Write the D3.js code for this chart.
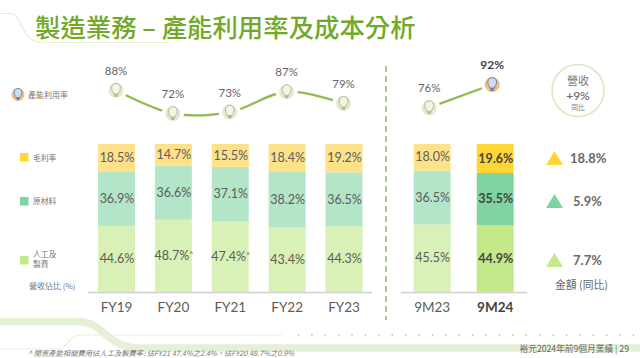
<!DOCTYPE html>
<html><head><meta charset="utf-8">
<script src="https://cdn.jsdelivr.net/npm/d3@7"></script>
<style>html,body{margin:0;padding:0;background:#fff}svg{display:block}text{font-family:"Noto Sans CJK TC","Noto Sans",sans-serif}.n{font-family:Lato,"Open Sans",sans-serif}</style>
</head><body><svg id="c" width="640" height="358"></svg>
<script>
const periodsFY=["FY19","FY20","FY21","FY22","FY23"];
const periodsM=["9M23","9M24"];
const labour=[44.6,48.7,47.4,43.4,44.3,45.5,44.9];
const material=[36.9,36.6,37.1,38.2,36.5,36.5,35.5];
const margin=[18.5,14.7,15.5,18.4,19.2,18.0,19.6];
const utilFY=[88,72,73,87,79];
const utilM=[76,92];
const caretPeriods=["FY20","FY21"];
const seriesKeys=["labour","material","margin"];
const seriesNames=["人工及製費","原材料","毛利率"];
const changeLabels=["7.7%","5.9%","18.8%"];
const colorsLight=["#d9f1b6","#b3e5c8","#fee28a"];
const colorsStrong=["#c3e98a","#80d4a2","#ffd633"];

const svg=d3.select("#c");
const all=periodsFY.concat(periodsM);
const rows=all.map((p,i)=>({period:p,labour:labour[i],material:material[i],margin:margin[i]}));

/* background decoration */
const deco=svg.append("g").attr("fill","none");
deco.append("path").attr("d","M0,13.5H10C22,13.5 21,42.5 42,42.5H168").attr("stroke","#e8efd3").attr("stroke-width",1.2);
deco.append("path").attr("d","M0,321.5H78C104,321.5 106,348 140,348H640").attr("stroke","#e6f0d6").attr("stroke-width",7.5);
deco.append("path").attr("d","M0,349H56C68,349 68,335 82,335H282").attr("stroke","#e8f1da").attr("stroke-width",1.2);
deco.append("g").selectAll("circle").data(d3.range(298.5,640,13.4)).join("circle")
  .attr("cx",d=>d).attr("cy",335).attr("r",0.9).attr("fill","#c3d58c");

/* title */
svg.append("text").attr("x",35).attr("y",36.5).attr("font-size",25.4).attr("fill","#72a928").attr("font-weight",500)
  .text("製造業務 – 產能利用率及成本分析");

/* scales */
const xF=d3.scaleBand().domain(periodsFY).range([98,362.5]).paddingInner(0.35).paddingOuter(0);
const xM=d3.scaleBand().domain(periodsM).range([413.7,513.7]).paddingInner(0.413).paddingOuter(0);
const xOf=p=>periodsFY.includes(p)?xF(p):xM(p);
const bw=xF.bandwidth();
const y=d3.scaleLinear().domain([0,100]).range([291.7,144]);
const yU=d3.scaleLinear().domain([72,92]).range([113.5,84.5]);

/* stacked bars */
const stacked=d3.stack().keys(seriesKeys)(rows);
const barG=svg.append("g");
stacked.forEach((s,si)=>{
  const g=barG.append("g");
  g.selectAll("rect").data(s).join("rect")
    .attr("x",d=>xOf(d.data.period)).attr("width",bw)
    .attr("y",d=>y(d[1])).attr("height",d=>y(d[0])-y(d[1]))
    .attr("fill",d=>d.data.period==="9M24"?colorsStrong[si]:colorsLight[si]);
  const t=g.selectAll("text").data(s).join("text").attr("class","n")
    .attr("x",d=>xOf(d.data.period)+bw/2+0.5).attr("y",d=>(y(d[0])+y(d[1]))/2+4.2)
    .attr("text-anchor","middle").attr("font-size",12.5)
    .attr("font-weight",d=>d.data.period==="9M24"?700:400)
    .attr("fill",d=>d.data.period==="9M24"?"#444":"#5c5c5c");
  t.each(function(d){
    const sel=d3.select(this);
    const v=d[1]-d[0];
    sel.append("tspan").text(d3.format(".1f")(v)+"%");
    if(si===0&&caretPeriods.includes(d.data.period))
      sel.append("tspan").text("^").attr("font-size",7).attr("dy",-3);
  });
});

/* axes */
function axis(scale,sel){
  const a=sel.append("g").attr("transform","translate(0,292)").call(d3.axisBottom(scale).tickSize(0).tickPadding(0));
  a.select(".domain").attr("stroke","#cfcfcf").attr("stroke-width",1.4);
  a.selectAll("text").attr("class","n").attr("font-size",13.5).attr("y",20).attr("dy",0)
    .attr("fill",d=>d==="9M24"?"#444":"#5c5c5c").attr("font-weight",d=>d==="9M24"?700:400);
}
const aF=svg.append("g"); axis(xF.copy().range([98,362.5]),aF);
aF.select(".domain").attr("d","M88,0.5H372");
const aM=svg.append("g"); axis(xM,aM);
aM.select(".domain").attr("d","M401,0.5H527");

/* divider */
svg.append("line").attr("x1",386).attr("x2",386).attr("y1",66).attr("y2",320)
  .attr("stroke","#7dab5f").attr("stroke-width",1.3).attr("stroke-dasharray","6 4");

/* bulb icon */
function bulb(g,hi,r){
  g.append("circle").attr("r",r).attr("fill",hi?"#f2bf78":"#e5e9cf");
  const k=r/7.5;
  const b=g.append("g").attr("transform",`scale(${k})`);
  b.append("path").attr("d","M-4.2,-1.2A4.4,4.4 0 1 1 4.2,-1.2C4.2,1 2.4,1.6 2.2,3.6H-2.2C-2.4,1.6 -4.2,1 -4.2,-1.2Z")
    .attr("fill",hi?"#cfdcf6":"#f4f5e6").attr("stroke",hi?"#6670a8":"#aab48c").attr("stroke-width",0.9);
  b.append("path").attr("d","M-2,4.6H2M-1.4,6H1.4").attr("stroke",hi?"#6670a8":"#aab48c").attr("stroke-width",1.1).attr("fill","none");
}

/* utilisation lines */
function util(periods,vals,scale,curve,dx){
  const pts=periods.map((p,i)=>({p,v:vals[i],x:scale(p)+bw/2+dx}));
  const line=d3.line().x(d=>d.x).y(d=>yU(d.v)).curve(curve);
  svg.append("path").attr("d",line(pts)).attr("fill","none").attr("stroke","#94b94c").attr("stroke-width",2.3);
  const g=svg.append("g").selectAll("g").data(pts).join("g").attr("transform",d=>`translate(${d.x},${yU(d.v)})`);
  g.append("circle").attr("r",11).attr("fill","#fff");
  g.each(function(d){bulb(d3.select(this),d.p==="9M24",7.5);});
  g.append("text").attr("class","n").attr("text-anchor","middle").attr("y",-15.5)
    .attr("font-size",d=>d.p==="9M24"?12:11.5)
    .attr("font-weight",d=>d.p==="9M24"?700:400)
    .attr("fill",d=>d.p==="9M24"?"#444":"#666").text(d=>d.v+"%");
}
util(periodsFY,utilFY,xF,d3.curveCatmullRom.alpha(0.5),-0.5);
util(periodsM,utilM,xM,d3.curveLinear,-3);

/* left legend */
const bulbG=svg.append("g").attr("transform","translate(18,94.5)");
bulb(bulbG,true,6.5);
svg.append("text").attr("x",28).attr("y",97.5).attr("font-size",8).attr("fill","#777").text("產能利用率");
const legendY=[153,197,256];
const legendIdx=[2,1,0];
svg.append("g").selectAll("rect").data(legendIdx).join("rect")
  .attr("x",20).attr("y",(d,i)=>legendY[i]).attr("width",8.5).attr("height",8.5).attr("fill",d=>colorsStrong[d]);
svg.append("text").attr("x",33).attr("y",161).attr("font-size",7.8).attr("fill","#777").text(seriesNames[2]);
svg.append("text").attr("x",33).attr("y",204).attr("font-size",7.8).attr("fill","#777").text(seriesNames[1]);
svg.append("text").attr("x",33).attr("y",257).attr("font-size",7.8).attr("fill","#777").text(seriesNames[0].slice(0,3));
svg.append("text").attr("x",33).attr("y",267).attr("font-size",7.8).attr("fill","#777").text(seriesNames[0].slice(3));
svg.append("text").attr("x",29).attr("y",289).attr("font-size",8).attr("fill","#777").text("營收佔比 (%)");

/* right: revenue bubble */
svg.append("circle").attr("cx",578).attr("cy",90.5).attr("r",26).attr("fill","#fff").attr("stroke","#dde6c4").attr("stroke-width",1.6);
svg.append("text").attr("x",578).attr("y",85).attr("text-anchor","middle").attr("font-size",11).attr("fill","#777").text("營收");
svg.append("text").attr("class","n").attr("x",578).attr("y",99.5).attr("text-anchor","middle").attr("font-size",12).attr("font-weight",500).attr("fill","#666").text("+9%");
svg.append("text").attr("x",578).attr("y",110).attr("text-anchor","middle").attr("font-size",6.8).attr("fill","#777").text("同比");

/* right: change triangles */
const triY=[260,201,158];
const triTextX=[573,573,570];
const tri=svg.append("g").selectAll("g").data(changeLabels).join("g");
tri.append("path").attr("d","M-8.5,7H8.5L0,-7Z").attr("transform",(d,i)=>`translate(554.5,${triY[i]})`).attr("fill",(d,i)=>colorsStrong[i]);
tri.append("text").attr("class","n").attr("x",(d,i)=>triTextX[i]).attr("y",(d,i)=>triY[i]+4.5)
  .attr("font-size",13).attr("font-weight",700).attr("fill","#6a6a6a").text(d=>d);
svg.append("text").attr("x",555).attr("y",289).attr("font-size",10.8).attr("fill","#666").text("金額 (同比)");

/* footer */
svg.append("text").attr("x",28).attr("y",356).attr("font-size",7.3).attr("font-style","italic").attr("fill","#777")
  .text("^ 閒置產能相關費用佔人工及製費率: 佔FY21 47.4%之2.4%，佔FY20 48.7%之0.9%");
svg.append("text").attr("x",629).attr("y",351.5).attr("text-anchor","end").attr("font-size",8.7).attr("fill","#666").text("裕元2024年前9個月業績 | 29");
</script></body></html>
